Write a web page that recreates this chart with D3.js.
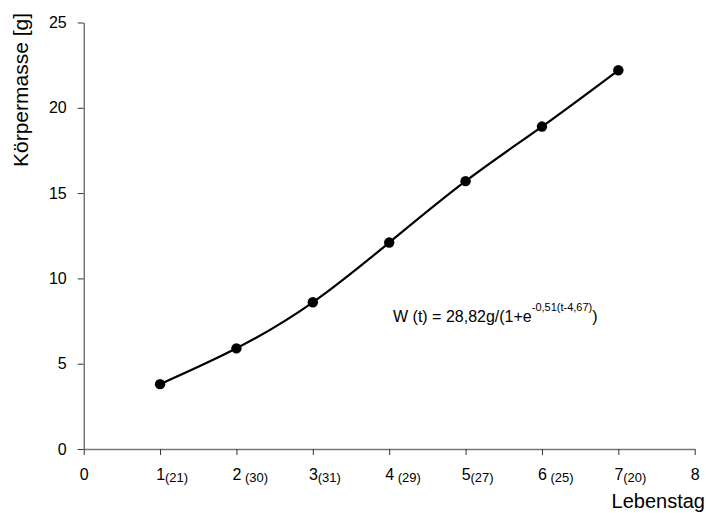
<!DOCTYPE html>
<html>
<head>
<meta charset="utf-8">
<script src="https://cdn.jsdelivr.net/npm/d3@7/dist/d3.min.js"></script>
<style>
  html, body { margin: 0; padding: 0; background: #fff; }
  svg { display: block; font-family: "Liberation Sans", Arial, sans-serif; }
</style>
</head>
<body>
<svg id="chart" width="706" height="513"></svg>
<script>
// ---- data ----
const days = [1, 2, 3, 4, 5, 6, 7];
const mass = [3.8, 5.9, 8.6, 12.1, 15.7, 18.9, 22.2];
const xTicks = [0, 1, 2, 3, 4, 5, 6, 7, 8];
const xTickMain = ["0", "1", "2", "3", "4", "5", "6", "7", "8"];
const xTickSub = ["", "(21)", " (30)", "(31)", " (29)", "(27)", " (25)", "(20)", ""];
const yTicks = [0, 5, 10, 15, 20, 25];
const xTitle = "Lebenstag";
const yTitle = "Körpermasse [g]";
const formulaMain = "W (t) = 28,82g/(1+e";
const formulaSup = "-0,51(t-4,67)";
const formulaEnd = ")";

// ---- layout ----
const svg = d3.select("#chart");
const x = d3.scaleLinear().domain([0, 8]).range([83.7, 694.7]);
const y = d3.scaleLinear().domain([0, 25]).range([449, 22.5]);

// y axis
const yAxis = svg.append("g")
  .attr("transform", `translate(${x(0)},0)`)
  .call(d3.axisLeft(y).tickValues(yTicks).tickSize(6).tickPadding(11).tickSizeOuter(0));
yAxis.select(".domain").attr("stroke", "#333").attr("stroke-width", 1);
yAxis.selectAll(".tick line").attr("stroke", "#333");
yAxis.selectAll(".tick text").attr("font-size", 16).attr("fill", "#000")
  .attr("font-family", "Liberation Sans, Arial, sans-serif");

// x axis
const xAxis = svg.append("g")
  .attr("transform", `translate(0,${y(0)})`)
  .call(d3.axisBottom(x).tickValues(xTicks).tickSize(6).tickSizeOuter(0)
    .tickFormat((d, i) => xTickMain[i]));
xAxis.select(".domain").attr("stroke", "#777").attr("stroke-width", 1.6);
xAxis.selectAll(".tick line").attr("stroke", "#333");
xAxis.selectAll(".tick text")
  .attr("font-size", 16).attr("fill", "#000")
  .attr("font-family", "Liberation Sans, Arial, sans-serif")
  .attr("text-anchor", "start")
  .attr("x", -4.45)
  .attr("y", 31).attr("dy", null)
  .style("white-space", "pre")
  .each(function(d, i) {
    if (xTickSub[i]) {
      d3.select(this).append("tspan")
        .attr("font-size", 13)
        .attr("dy", 1.5)
        .style("white-space", "pre")
        .text(xTickSub[i]);
    }
  });

// curve through points
const pts = days.map((d, i) => [d, mass[i]]);
svg.append("path")
  .datum(pts)
  .attr("fill", "none")
  .attr("stroke", "#000")
  .attr("stroke-width", 2.2)
  .attr("d", d3.line().x(d => x(d[0])).y(d => y(d[1])).curve(d3.curveNatural));

svg.append("g").selectAll("circle")
  .data(pts)
  .join("circle")
  .attr("cx", d => x(d[0]))
  .attr("cy", d => y(d[1]))
  .attr("r", 5.2)
  .attr("fill", "#000");

// titles
svg.append("text")
  .attr("transform", "translate(28,90) rotate(-90)")
  .attr("text-anchor", "middle")
  .attr("font-size", 21)
  .attr("fill", "#000")
  .text(yTitle);

svg.append("text")
  .attr("x", 705).attr("y", 508)
  .attr("text-anchor", "end")
  .attr("font-size", 20)
  .attr("fill", "#000")
  .text(xTitle);

// formula
const f = svg.append("text")
  .attr("x", 393).attr("y", 322)
  .attr("font-size", 16)
  .attr("fill", "#000");
f.append("tspan").text(formulaMain);
f.append("tspan").attr("font-size", 11).attr("dy", -11.5).text(formulaSup);
f.append("tspan").attr("font-size", 16).attr("dy", 11.5).text(formulaEnd);
</script>
</body>
</html>
